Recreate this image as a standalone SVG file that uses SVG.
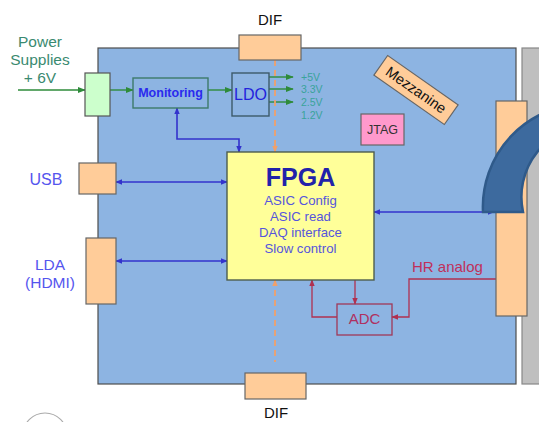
<svg xmlns="http://www.w3.org/2000/svg" width="539" height="422" viewBox="0 0 539 422">
<style>
text{font-family:"Liberation Sans",Arial,sans-serif}
.port{fill:#ffcc99;stroke:#666;stroke-width:1.2}
.blue{stroke:#3333cc;stroke-width:1.6;fill:none}
.green{stroke:#2e8b3a;stroke-width:1.4;fill:none}
.red{stroke:#b03050;stroke-width:1.3;fill:none}
.dash{stroke:#f0a06a;stroke-width:1.8;fill:none;stroke-dasharray:6 4}
</style>
<defs>
<marker id="ab" viewBox="0 0 10 10" refX="9" refY="5" markerWidth="7" markerHeight="7" markerUnits="userSpaceOnUse" orient="auto-start-reverse"><path d="M0,1 L10,5 L0,9 Z" fill="#3333cc"/></marker>
<marker id="ag" viewBox="0 0 10 10" refX="9" refY="5" markerWidth="8" markerHeight="8" markerUnits="userSpaceOnUse" orient="auto"><path d="M0,1 L10,5 L0,9 Z" fill="#2e8b3a"/></marker>
<marker id="ar" viewBox="0 0 10 10" refX="9" refY="5" markerWidth="7" markerHeight="7" markerUnits="userSpaceOnUse" orient="auto"><path d="M0,1 L10,5 L0,9 Z" fill="#b03050"/></marker>
<marker id="ao" viewBox="0 0 10 10" refX="9" refY="5" markerWidth="7" markerHeight="7" markerUnits="userSpaceOnUse" orient="auto-start-reverse"><path d="M0,1 L10,5 L0,9 Z" fill="#f0a06a"/></marker>
</defs>
<rect width="539" height="422" fill="#ffffff"/>
<g id="board"><rect x="98" y="48" width="418" height="336" fill="#8db4e2" stroke="#4d4d4d" stroke-width="1.2"/></g>
<g id="panel"><rect x="522" y="48" width="30" height="336" fill="#bfbfbf" stroke="#888" stroke-width="1.2"/></g>
<circle cx="45" cy="435" r="22" fill="none" stroke="#aaaaaa" stroke-width="1.2"/>

<g id="connectors">
<line class="green" x1="18" y1="90" x2="85" y2="90" marker-end="url(#ag)"/>
<line class="green" x1="110" y1="90" x2="133" y2="90" marker-end="url(#ag)"/>
<line class="green" x1="208" y1="90" x2="232" y2="90" marker-end="url(#ag)"/>
<line class="green" x1="269" y1="77" x2="293" y2="77" marker-end="url(#ag)"/>
<line class="green" x1="269" y1="89" x2="293" y2="89" marker-end="url(#ag)"/>
<line class="green" x1="269" y1="102" x2="293" y2="102" marker-end="url(#ag)"/>
<polyline class="blue" points="177,108 177,139 239,139 239,152" marker-start="url(#ab)" marker-end="url(#ab)"/>
<line class="blue" x1="116" y1="182" x2="227" y2="182" marker-start="url(#ab)" marker-end="url(#ab)"/>
<line class="blue" x1="116" y1="261" x2="227" y2="261" marker-start="url(#ab)" marker-end="url(#ab)"/>
<line class="blue" x1="374" y1="212" x2="494" y2="212" marker-start="url(#ab)" marker-end="url(#ab)"/>
<line class="dash" x1="275" y1="60" x2="275" y2="152" marker-end="url(#ao)"/>
<line class="dash" x1="275" y1="280" x2="275" y2="362" marker-start="url(#ao)"/>
<line class="red" x1="355" y1="280" x2="355" y2="304" marker-end="url(#ar)"/>
<polyline class="red" points="337,317 312,317 312,280" marker-end="url(#ar)"/>
<polyline class="red" points="496,279 409,279 409,317 392,317" marker-end="url(#ar)"/>
</g>

<g id="dif-top"><rect class="port" x="239" y="35" width="62" height="25"/><text x="270" y="25" font-size="15" text-anchor="middle" fill="#111">DIF</text></g>
<g id="dif-bottom"><rect class="port" x="245" y="373" width="61" height="26"/><text x="276" y="418" font-size="15" text-anchor="middle" fill="#111">DIF</text></g>

<g id="power"><text font-size="15.5" fill="#3a8a70" text-anchor="middle"><tspan x="40" y="47">Power</tspan><tspan x="40" y="65">Supplies</tspan><tspan x="40" y="83">+ 6V</tspan></text>
<rect x="85" y="73" width="25" height="43" fill="#ccffcc" stroke="#555" stroke-width="1.2"/></g>

<g id="monitoring"><rect x="133" y="78" width="75" height="30" fill="#8db4e2" stroke="#3d7a6a" stroke-width="1.4"/><text x="170.5" y="97" font-size="12.5" font-weight="bold" text-anchor="middle" fill="#2a2aee">Monitoring</text></g>

<g id="ldo"><rect x="232" y="73" width="37" height="43" fill="#8db4e2" stroke="#3d5a6a" stroke-width="1.4"/><text x="250.5" y="100" font-size="16" text-anchor="middle" fill="#2222dd">LDO</text></g>

<g id="voltages"><text font-size="10.5" fill="#3aa39a"><tspan x="301" y="81">+5V</tspan><tspan x="301" y="93">3.3V</tspan><tspan x="301" y="106">2.5V</tspan><tspan x="301" y="119">1.2V</tspan></text></g>

<g id="mezzanine" transform="translate(416,90) rotate(35)"><rect x="-43" y="-12" width="86" height="24" fill="#ffcc99" stroke="#666" stroke-width="1.2"/><text x="0" y="5" font-size="14.5" text-anchor="middle" fill="#111">Mezzanine</text></g>

<g id="jtag"><rect x="361" y="114" width="43" height="31" fill="#ff99cc" stroke="#666" stroke-width="1.2"/><text x="382.5" y="134" font-size="12.5" text-anchor="middle" fill="#333">JTAG</text></g>

<g id="usb"><text x="46" y="185" font-size="16" text-anchor="middle" fill="#5555ee">USB</text><rect class="port" x="79" y="163" width="37" height="31"/></g>

<g id="lda"><text font-size="15.5" text-anchor="middle" fill="#5555ee"><tspan x="50" y="270">LDA</tspan><tspan x="50" y="288">(HDMI)</tspan></text><rect class="port" x="86" y="238" width="30" height="66"/></g>

<g id="fpga"><rect x="227" y="152" width="147" height="128" fill="#ffff99" stroke="#4d5d4d" stroke-width="1.4"/>
<text x="300.5" y="186" font-size="25" font-weight="bold" text-anchor="middle" fill="#2222aa">FPGA</text>
<text font-size="13.2" text-anchor="middle" fill="#5555dd"><tspan x="300.5" y="205">ASIC Config</tspan><tspan x="300.5" y="221">ASIC read</tspan><tspan x="300.5" y="237">DAQ interface</tspan><tspan x="300.5" y="253">Slow control</tspan></text></g>

<g id="adc"><rect x="337" y="304" width="55" height="31" fill="none" stroke="#a03858" stroke-width="1.3"/><text x="364.5" y="324" font-size="15" text-anchor="middle" fill="#b03060">ADC</text></g>

<g id="hr-analog"><text x="412" y="272" font-size="15" fill="#c0305a">HR analog</text></g>

<g id="asic-connector"><rect class="port" x="496" y="101" width="31" height="215"/></g>

<g id="arc"><path d="M483,212 A103,103 0 0 1 586,104 L593,125 A72,72 0 0 0 523,212 Z" fill="#3d6a9e" stroke="#2f5a8a" stroke-width="2.5"/></g>
</svg>
